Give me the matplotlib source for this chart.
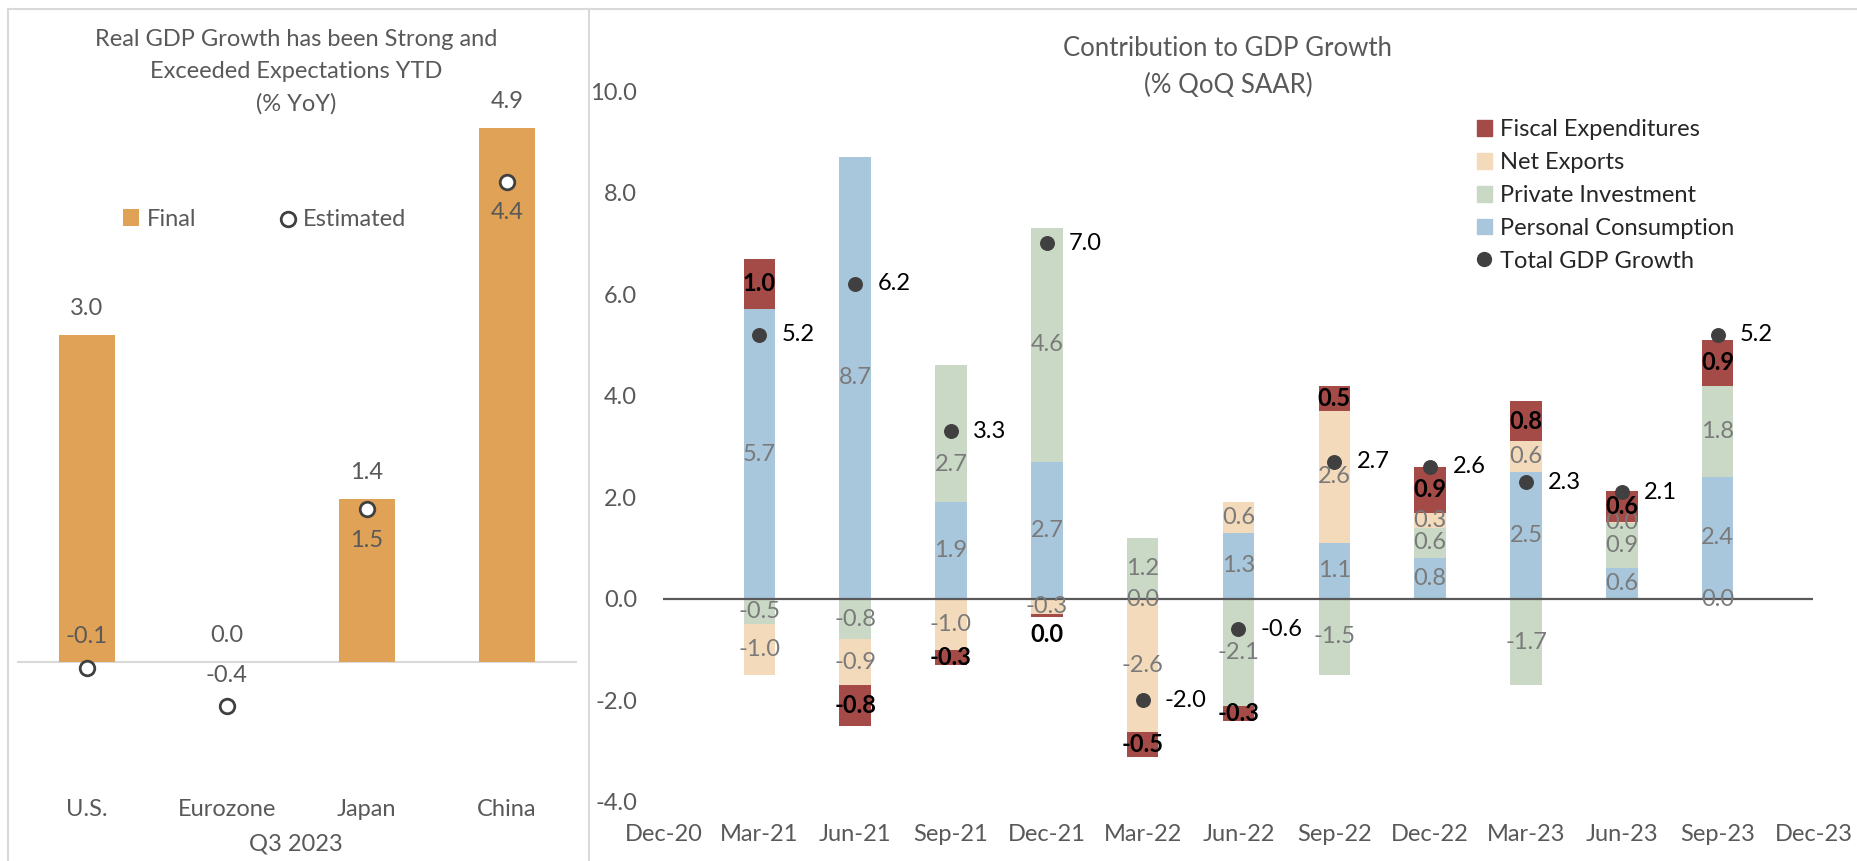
import matplotlib
matplotlib.use("Agg")
import matplotlib.pyplot as plt
from matplotlib.lines import Line2D
from matplotlib.patches import Patch
from matplotlib.ticker import FormatStrFormatter
import numpy as np

plt.rcParams.update({
    "font.family": ["Lato", "DejaVu Sans"],
    "font.size": 17,
})

W, H = 1858, 861

# ---- left panel: Q3 2023 real GDP growth (% YoY)
countries = ["U.S.", "Eurozone", "Japan", "China"]
final = [3.0, 0.0, 1.5, 4.9]
estimated = [-0.05, -0.4, 1.4, 4.4]
final_text = ["3.0", "0.0", "1.4", "4.9"]
est_text = ["-0.1", "-0.4", "1.5", "4.4"]

# ---- right panel: contribution to GDP growth (% QoQ SAAR)
quarters = ["Dec-20", "Mar-21", "Jun-21", "Sep-21", "Dec-21", "Mar-22", "Jun-22",
            "Sep-22", "Dec-22", "Mar-23", "Jun-23", "Sep-23", "Dec-23"]
consumption = [5.7, 8.7, 1.9, 2.7, -0.02, 1.3, 1.1, 0.8, 2.5, 0.6, 2.4]
investment = [-0.5, -0.8, 2.7, 4.6, 1.2, -2.1, -1.5, 0.6, -1.7, 0.9, 1.8]
net_exports = [-1.0, -0.9, -1.0, -0.3, -2.6, 0.6, 2.6, 0.3, 0.6, 0.02, -0.02]
fiscal = [1.0, -0.8, -0.3, -0.05, -0.5, -0.3, 0.5, 0.9, 0.8, 0.6, 0.9]
total = [5.2, 6.2, 3.3, 7.0, -2.0, -0.6, 2.7, 2.6, 2.3, 2.1, 5.2]

C_ORANGE = "#e0a256"
C_DARK = "#404040"
C_TEXT = "#595959"
C_LABEL = "#7a7a7a"
C_FISCAL = "#a44a47"
C_NX = "#f3dabb"
C_INV = "#cad9c6"
C_PC = "#a9c7dc"


def px(x, y):
    return x / W, 1 - y / H


def fmt(v):
    return "0.0" if round(v, 1) == 0 else f"{v:.1f}"


fig = plt.figure(figsize=(W / 100, H / 100), dpi=100)

# panel borders
for xs, ys in [((8, 8), (9, 861)), ((8, 1858), (9, 9)), ((589, 589), (9, 861))]:
    fig.add_artist(Line2D([x / W for x in xs], [1 - y / H for y in ys],
                          color="#d9d9d9", lw=1.5))

# ============================================================================
# Left panel
# ============================================================================
l, b = px(16.5, 782)
ax1 = fig.add_axes([l, b, (577 - 16.5) / W, (782 - 62.5) / H])
x1 = np.arange(len(countries))
bars1 = ax1.bar(x1, final, width=0.4, color=C_ORANGE, zorder=2)
pts1 = ax1.scatter(x1, estimated, s=110, facecolor="white", edgecolor=C_DARK,
                   linewidth=2, zorder=3)
ax1.axhline(0, color="#d9d9d9", lw=1.5, zorder=1)
ax1.set_xlim(-0.5, len(countries) - 0.5)
ax1.set_ylim(-1.1, 5.5)
ax1.set_yticks([])
ax1.set_xticks(x1)
ax1.set_xticklabels(countries, color=C_TEXT)
ax1.tick_params(axis="x", length=0, pad=12.5)
for s in ax1.spines.values():
    s.set_visible(False)

for xi, v, t in zip(x1, final, final_text):
    ax1.annotate(t, (xi, max(v, 0)), xytext=(0, 19), textcoords="offset points",
                 ha="center", va="center", color=C_TEXT)
for xi, v, t, side in zip(x1, estimated, est_text, [1, 1, -1, -1]):
    ax1.annotate(t, (xi, v), xytext=(0, 22 * side), textcoords="offset points",
                 ha="center", va="center", color=C_TEXT)

fig.text(*px(296, 39), "Real GDP Growth has been Strong and", ha="center",
         va="center", color=C_TEXT, fontsize=17)
fig.text(*px(296, 72), "Exceeded Expectations YTD", ha="center", va="center",
         color=C_TEXT, fontsize=17)
fig.text(*px(296, 104), "(% YoY)", ha="center", va="center", color=C_TEXT,
         fontsize=17)
fig.text(*px(296, 844), "Q3 2023", ha="center", va="center", color=C_TEXT,
         fontsize=17)

ax1.legend([bars1, pts1], ["Final", "Estimated"], loc="center left",
           bbox_to_anchor=px(111, 219), bbox_transform=fig.transFigure,
           ncol=2, frameon=False, handlelength=0.7, handletextpad=0.3,
           columnspacing=3.55, labelcolor=C_TEXT, borderpad=0)

# ============================================================================
# Right panel
# ============================================================================
l, b = px(663.5, 802)
ax2 = fig.add_axes([l, b, 1150 / W, 711 / H])
x2 = np.arange(1, len(total) + 1)
series = [("Personal Consumption", consumption, C_PC),
          ("Private Investment", investment, C_INV),
          ("Net Exports", net_exports, C_NX),
          ("Fiscal Expenditures", fiscal, C_FISCAL)]
pos = np.zeros(len(x2))
neg = np.zeros(len(x2))
handles = {}
for name, vals, col in series:
    vals = np.array(vals)
    bottom = np.where(vals >= 0, pos, neg)
    handles[name] = ax2.bar(x2, vals, bottom=bottom, width=0.33, color=col,
                            label=name, zorder=2)
    for xi, v, b0, tot in zip(x2, vals, bottom, total):
        y = b0 + v / 2
        if abs(y - tot) < 0.2:
            # keep the label clear of the total marker
            y -= 0.6
        if name == "Fiscal Expenditures":
            if abs(v) < 0.1:
                y = b0 + v - 0.35
            ax2.text(xi, y, fmt(v), ha="center", va="center", color="black",
                     fontweight="bold", zorder=4)
        else:
            ax2.text(xi, y, fmt(v), ha="center", va="center", color=C_LABEL,
                     zorder=4)
    pos = pos + np.where(vals >= 0, vals, 0)
    neg = neg + np.where(vals < 0, vals, 0)

ax2.scatter(x2, total, s=95, color=C_DARK, zorder=5)
for xi, v in zip(x2, total):
    ax2.annotate(fmt(v), (xi, v), xytext=(16, 0), textcoords="offset points",
                 ha="left", va="center", color="black")

ax2.axhline(0, color=C_TEXT, lw=1.6, zorder=3)
ax2.set_xlim(0, len(quarters) - 1)
ax2.set_ylim(-4, 10)
ax2.set_yticks(np.arange(-4, 10.1, 2))
ax2.yaxis.set_major_formatter(FormatStrFormatter("%.1f"))
ax2.set_xticks(np.arange(len(quarters)))
ax2.set_xticklabels(quarters)
ax2.tick_params(length=0, colors=C_TEXT)
ax2.tick_params(axis="y", pad=19)
ax2.tick_params(axis="x", pad=16)
for s in ax2.spines.values():
    s.set_visible(False)

fig.text(*px(1228, 48), "Contribution to GDP Growth", ha="center", va="center",
         color=C_TEXT, fontsize=18.5)
fig.text(*px(1228, 85), "(% QoQ SAAR)", ha="center", va="center",
         color=C_TEXT, fontsize=18.5)

order = ["Fiscal Expenditures", "Net Exports", "Private Investment", "Personal Consumption"]
leg_handles = [Patch(color=handles[n].patches[0].get_facecolor()) for n in order]
leg_handles.append(Line2D([], [], marker="o", ls="", color=C_DARK, markersize=10))
ax2.legend(leg_handles, order + ["Total GDP Growth"], loc="upper left",
           bbox_to_anchor=px(1465, 107.5), bbox_transform=fig.transFigure,
           frameon=False, handlelength=0.65, handleheight=0.65, handletextpad=0.35,
           labelspacing=0.5, borderpad=0, labelcolor="#262626")

fig.savefig("out.png", dpi=100)
